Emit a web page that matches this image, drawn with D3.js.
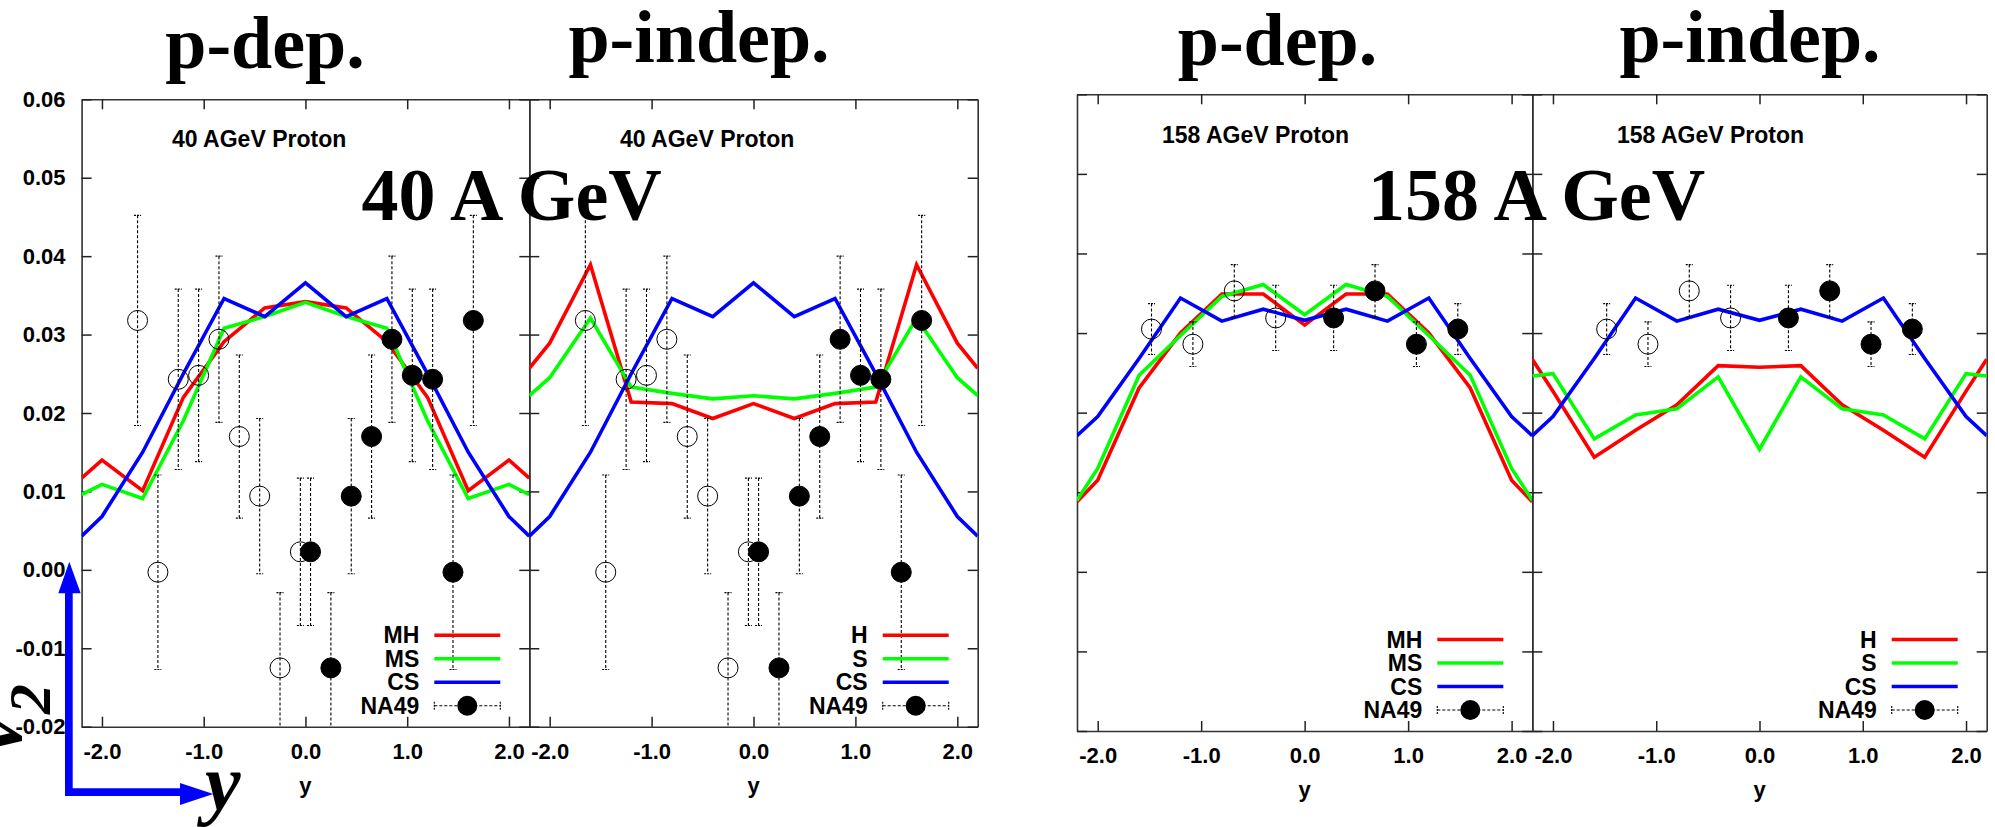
<!DOCTYPE html>
<html>
<head>
<meta charset="utf-8">
<script src="https://cdn.jsdelivr.net/npm/d3@7"></script>
<style>
  html, body { margin: 0; padding: 0; background: #ffffff; }
  svg { display: block; }
</style>
</head>
<body>
<svg id="chart" width="1995" height="827"></svg>
<script>
// ---------------- DATA ----------------
const yTicks = [-0.02, -0.01, 0.00, 0.01, 0.02, 0.03, 0.04, 0.05, 0.06];
const yTickLabels = ["-0.02", "-0.01", "0.00", "0.01", "0.02", "0.03", "0.04", "0.05", "0.06"];
const xTicks = [-2, -1, 0, 1, 2];
const xTickLabels = ["-2.0", "-1.0", "0.0", "1.0", "2.0"];

// model rapidity grid
const modelY = [-2.2, -2.0, -1.6, -1.2, -0.8, -0.4, 0.0, 0.4, 0.8, 1.2, 1.6, 2.0, 2.2];

// 40 AGeV, momentum dependent
const MH_40 = [0.0117, 0.0140, 0.0101, 0.0220, 0.0291, 0.0334, 0.0342, 0.0334, 0.0291, 0.0220, 0.0101, 0.0140, 0.0117];
const MS_40 = [0.0096, 0.0109, 0.0091, 0.0190, 0.0308, 0.0323, 0.0341, 0.0323, 0.0308, 0.0190, 0.0091, 0.0109, 0.0096];
const CS_40 = [0.0043, 0.0068, 0.0150, 0.0250, 0.0346, 0.0323, 0.0366, 0.0323, 0.0346, 0.0250, 0.0150, 0.0068, 0.0043];
// 40 AGeV, momentum independent
const H_40 = [0.0257, 0.0289, 0.0389, 0.0214, 0.0212, 0.0193, 0.0212, 0.0193, 0.0212, 0.0214, 0.0389, 0.0289, 0.0257];
const S_40 = [0.0222, 0.0245, 0.0321, 0.0233, 0.0225, 0.0218, 0.0222, 0.0218, 0.0225, 0.0233, 0.0321, 0.0245, 0.0222];

// 158 AGeV, momentum dependent
const MH_158 = [0.0088, 0.0115, 0.0231, 0.0300, 0.0349, 0.0349, 0.0310, 0.0349, 0.0349, 0.0300, 0.0231, 0.0115, 0.0088];
const MS_158 = [0.0090, 0.0130, 0.0247, 0.0297, 0.0346, 0.0361, 0.0323, 0.0361, 0.0346, 0.0297, 0.0247, 0.0130, 0.0090];
const CS_158 = [0.0171, 0.0195, 0.0268, 0.0344, 0.0315, 0.0330, 0.0316, 0.0330, 0.0315, 0.0344, 0.0268, 0.0195, 0.0171];
// 158 AGeV, momentum independent
const H_158 = [0.0267, 0.0227, 0.0144, 0.0178, 0.0210, 0.0259, 0.0257, 0.0259, 0.0210, 0.0178, 0.0144, 0.0227, 0.0267];
const S_158 = [0.0246, 0.0249, 0.0167, 0.0197, 0.0205, 0.0245, 0.0154, 0.0245, 0.0205, 0.0197, 0.0167, 0.0249, 0.0246];

// NA49 data, 40 AGeV (measured, filled)
const na49_40_y   = [0.05, 0.25, 0.45, 0.65, 0.85, 1.05, 1.25, 1.45, 1.65];
const na49_40_v2  = [0.0023, -0.0125, 0.0094, 0.0170, 0.0294, 0.0248, 0.0243, -0.0003, 0.0318];
const na49_40_err = [0.0094, 0.0096, 0.0099, 0.0104, 0.0106, 0.0110, 0.0115, 0.0124, 0.0134];
// NA49 data, 40 AGeV (reflected, open)
const na49_40r_y   = [-0.05, -0.25, -0.45, -0.65, -0.85, -1.05, -1.25, -1.45, -1.65];
const na49_40r_v2  = [0.0023, -0.0125, 0.0094, 0.0170, 0.0294, 0.0248, 0.0243, -0.0003, 0.0318];
const na49_40r_err = [0.0094, 0.0096, 0.0099, 0.0104, 0.0106, 0.0110, 0.0115, 0.0124, 0.0134];

// NA49 data, 158 AGeV (measured, filled)
const na49_158_y   = [0.28, 0.68, 1.08, 1.48];
const na49_158_v2  = [0.0319, 0.0353, 0.0286, 0.0305];
const na49_158_err = [0.0041, 0.0033, 0.0028, 0.0032];
// NA49 data, 158 AGeV (reflected, open)
const na49_158r_y   = [-0.28, -0.68, -1.08, -1.48];
const na49_158r_v2  = [0.0319, 0.0353, 0.0286, 0.0305];
const na49_158r_err = [0.0041, 0.0033, 0.0028, 0.0032];

const headerTexts = ["p-dep.", "p-indep.", "p-dep.", "p-indep."];
const energyTexts = ["40 A GeV", "158 A GeV"];
const subtitles = ["40 AGeV Proton", "40 AGeV Proton", "158 AGeV Proton", "158 AGeV Proton"];
const legendNames = [["MH", "MS", "CS", "NA49"], ["H", "S", "CS", "NA49"], ["MH", "MS", "CS", "NA49"], ["H", "S", "CS", "NA49"]];

// ---------------- LAYOUT ----------------
const RED = "#ff0000", GREEN = "#00ff00", BLUE = "#0000ff";
const SANS = "'Liberation Sans', Arial, Helvetica, sans-serif";
const SERIF = "'Liberation Serif', 'Times New Roman', serif";

const panels = [
  { left: 81.6, right: 529.3, top: 99.3, bottom: 726.7, yLabels: true, curves: [MH_40, MS_40, CS_40],
    pts: [na49_40_y, na49_40_v2, na49_40_err], rpts: [na49_40r_y, na49_40r_v2, na49_40r_err],
    head: { x: 265, y: 68 }, sub: { x: 172, y: 146.7 } },
  { left: 529.3, right: 977.7, top: 99.3, bottom: 726.7, yLabels: false, curves: [H_40, S_40, CS_40],
    pts: [na49_40_y, na49_40_v2, na49_40_err], rpts: [na49_40r_y, na49_40r_v2, na49_40r_err],
    head: { x: 699, y: 62 }, sub: { x: 620, y: 146.7 } },
  { left: 1077, right: 1532.3, top: 94.3, bottom: 731, yLabels: false, curves: [MH_158, MS_158, CS_158],
    pts: [na49_158_y, na49_158_v2, na49_158_err], rpts: [na49_158r_y, na49_158r_v2, na49_158r_err],
    head: { x: 1277.5, y: 65 }, sub: { x: 1162, y: 142.7 } },
  { left: 1532.3, right: 1986.7, top: 94.3, bottom: 731, yLabels: false, curves: [H_158, S_158, CS_158],
    pts: [na49_158_y, na49_158_v2, na49_158_err], rpts: [na49_158r_y, na49_158r_v2, na49_158r_err],
    head: { x: 1750, y: 62 }, sub: { x: 1617, y: 142.7 } }
];
const colors = [RED, GREEN, BLUE];

const svg = d3.select("#chart");
const defs = svg.append("defs");

panels.forEach((p, i) => {
  const x = d3.scaleLinear().domain([-2.2, 2.2]).range([p.left, p.right]);
  const y = d3.scaleLinear().domain([-0.02, 0.06]).range([p.bottom, p.top]);
  const g = svg.append("g");

  defs.append("clipPath").attr("id", "clip" + i)
    .append("rect").attr("x", p.left).attr("y", p.top)
    .attr("width", p.right - p.left).attr("height", p.bottom - p.top);

  // axes
  const styleAxis = (sel) => {
    sel.select(".domain").attr("stroke", "#333").attr("stroke-width", 1.6);
    sel.selectAll(".tick line").attr("stroke", "#222").attr("stroke-width", 1.5);
    sel.selectAll(".tick text").attr("font-family", SANS).attr("font-weight", "bold")
      .attr("font-size", 22).attr("fill", "#000");
  };
  g.append("g").attr("transform", `translate(0,${p.bottom})`)
    .call(d3.axisBottom(x).tickValues(xTicks).tickSizeInner(-10).tickSizeOuter(0).tickPadding(16.5)
      .tickFormat((d, k) => xTickLabels[k]))
    .call(styleAxis);
  g.append("g").attr("transform", `translate(0,${p.top})`)
    .call(d3.axisTop(x).tickValues(xTicks).tickSizeInner(-10).tickSizeOuter(0).tickFormat(() => ""))
    .call(styleAxis);
  g.append("g").attr("transform", `translate(${p.left},0)`)
    .call(d3.axisLeft(y).tickValues(yTicks).tickSizeInner(-10).tickSizeOuter(0).tickPadding(16)
      .tickFormat((d, k) => p.yLabels ? yTickLabels[k] : ""))
    .call(styleAxis);
  g.append("g").attr("transform", `translate(${p.right},0)`)
    .call(d3.axisRight(y).tickValues(yTicks).tickSizeInner(-10).tickSizeOuter(0).tickFormat(() => ""))
    .call(styleAxis);

  // x axis title
  g.append("text").attr("x", x(0)).attr("y", p.bottom + 66)
    .attr("text-anchor", "middle").attr("font-family", SANS).attr("font-weight", "bold")
    .attr("font-size", 22).text("y");

  // subtitle
  g.append("text").attr("x", p.sub.x).attr("y", p.sub.y)
    .attr("font-family", SANS).attr("font-weight", "bold").attr("font-size", 23).text(subtitles[i]);

  const plot = g.append("g").attr("clip-path", `url(#clip${i})`);

  // model curves
  const line = d3.line().x((d) => x(d[0])).y((d) => y(d[1]));
  p.curves.forEach((vals, k) => {
    plot.append("path").datum(modelY.map((yy, j) => [yy, vals[j]]))
      .attr("d", line).attr("fill", "none").attr("stroke", colors[k])
      .attr("stroke-width", 3.6).attr("stroke-linejoin", "miter");
  });

  // data points with error bars
  const drawPts = (arr, filled) => {
    const [xs, vs, es] = arr;
    xs.forEach((xx, j) => {
      const cx = x(xx), top = y(vs[j] + es[j]), bot = y(vs[j] - es[j]);
      plot.append("line").attr("x1", cx).attr("x2", cx).attr("y1", top).attr("y2", bot)
        .attr("stroke", "#000").attr("stroke-width", 1.1).attr("stroke-dasharray", "3,2");
      [top, bot].forEach((yy) => {
        plot.append("line").attr("x1", cx - 3.5).attr("x2", cx + 3.5).attr("y1", yy).attr("y2", yy)
          .attr("stroke", "#000").attr("stroke-width", 1.1).attr("stroke-dasharray", "2,1");
      });
      plot.append("circle").attr("cx", cx).attr("cy", y(vs[j])).attr("r", 10)
        .attr("fill", filled ? "#000" : "none").attr("stroke", "#000").attr("stroke-width", 1);
    });
  };
  drawPts(p.rpts, false);
  drawPts(p.pts, true);

  // legend
  const names = legendNames[i];
  const offs = [91.5, 68, 44.5, 21];
  const tRight = p.right - 110, l0 = p.right - 95, l1 = p.right - 29;
  names.forEach((nm, k) => {
    const ly = p.bottom - offs[k];
    g.append("text").attr("x", tRight).attr("y", ly + 8.2).attr("text-anchor", "end")
      .attr("font-family", SANS).attr("font-weight", "bold").attr("font-size", 23).text(nm);
    if (k < 3) {
      g.append("line").attr("x1", l0).attr("x2", l1).attr("y1", ly).attr("y2", ly)
        .attr("stroke", colors[k]).attr("stroke-width", 3.6);
    } else {
      g.append("line").attr("x1", l0).attr("x2", l1).attr("y1", ly).attr("y2", ly)
        .attr("stroke", "#000").attr("stroke-width", 1.1).attr("stroke-dasharray", "3,2");
      [l0, l1].forEach((xx) => {
        g.append("line").attr("x1", xx).attr("x2", xx).attr("y1", ly - 4).attr("y2", ly + 4)
          .attr("stroke", "#000").attr("stroke-width", 1.1).attr("stroke-dasharray", "2,1");
      });
      g.append("circle").attr("cx", (l0 + l1) / 2).attr("cy", ly).attr("r", 10).attr("fill", "#000");
    }
  });

  // header
  svg.append("text").attr("x", p.head.x).attr("y", p.head.y).attr("text-anchor", "middle")
    .attr("font-family", SERIF).attr("font-weight", "bold").attr("font-size", 74).text(headerTexts[i]);
});

// energy labels
svg.append("text").attr("x", 361.6).attr("y", 220).attr("font-family", SERIF)
  .attr("font-weight", "bold").attr("font-size", 74).text(energyTexts[0]);
svg.append("text").attr("x", 1368).attr("y", 220).attr("font-family", SERIF)
  .attr("font-weight", "bold").attr("font-size", 74).text(energyTexts[1]);

// blue axis arrows (annotation)
const arrow = svg.append("g").attr("fill", BLUE);
arrow.append("path").attr("d",
  "M65,796 L65,593.3 L58.3,593.3 L69.3,561.7 L80.7,593.3 L72.7,593.3 L72.7,788.3 L180,788.3 L180,783 L213.3,794 L180,805 L180,796 Z");

// big italic axis names
svg.append("text").attr("transform", "translate(21,752) rotate(-90)")
  .attr("font-family", SERIF).attr("font-weight", "bold").attr("font-style", "italic")
  .attr("font-size", 80).text("v");
svg.append("text").attr("transform", "translate(50,714) rotate(-90)")
  .attr("font-family", SERIF).attr("font-weight", "bold").attr("font-style", "italic")
  .attr("font-size", 60).text("2");
svg.append("text").attr("x", 205).attr("y", 810)
  .attr("font-family", SERIF).attr("font-weight", "bold").attr("font-style", "italic")
  .attr("font-size", 80).text("y");
</script>
</body>
</html>
